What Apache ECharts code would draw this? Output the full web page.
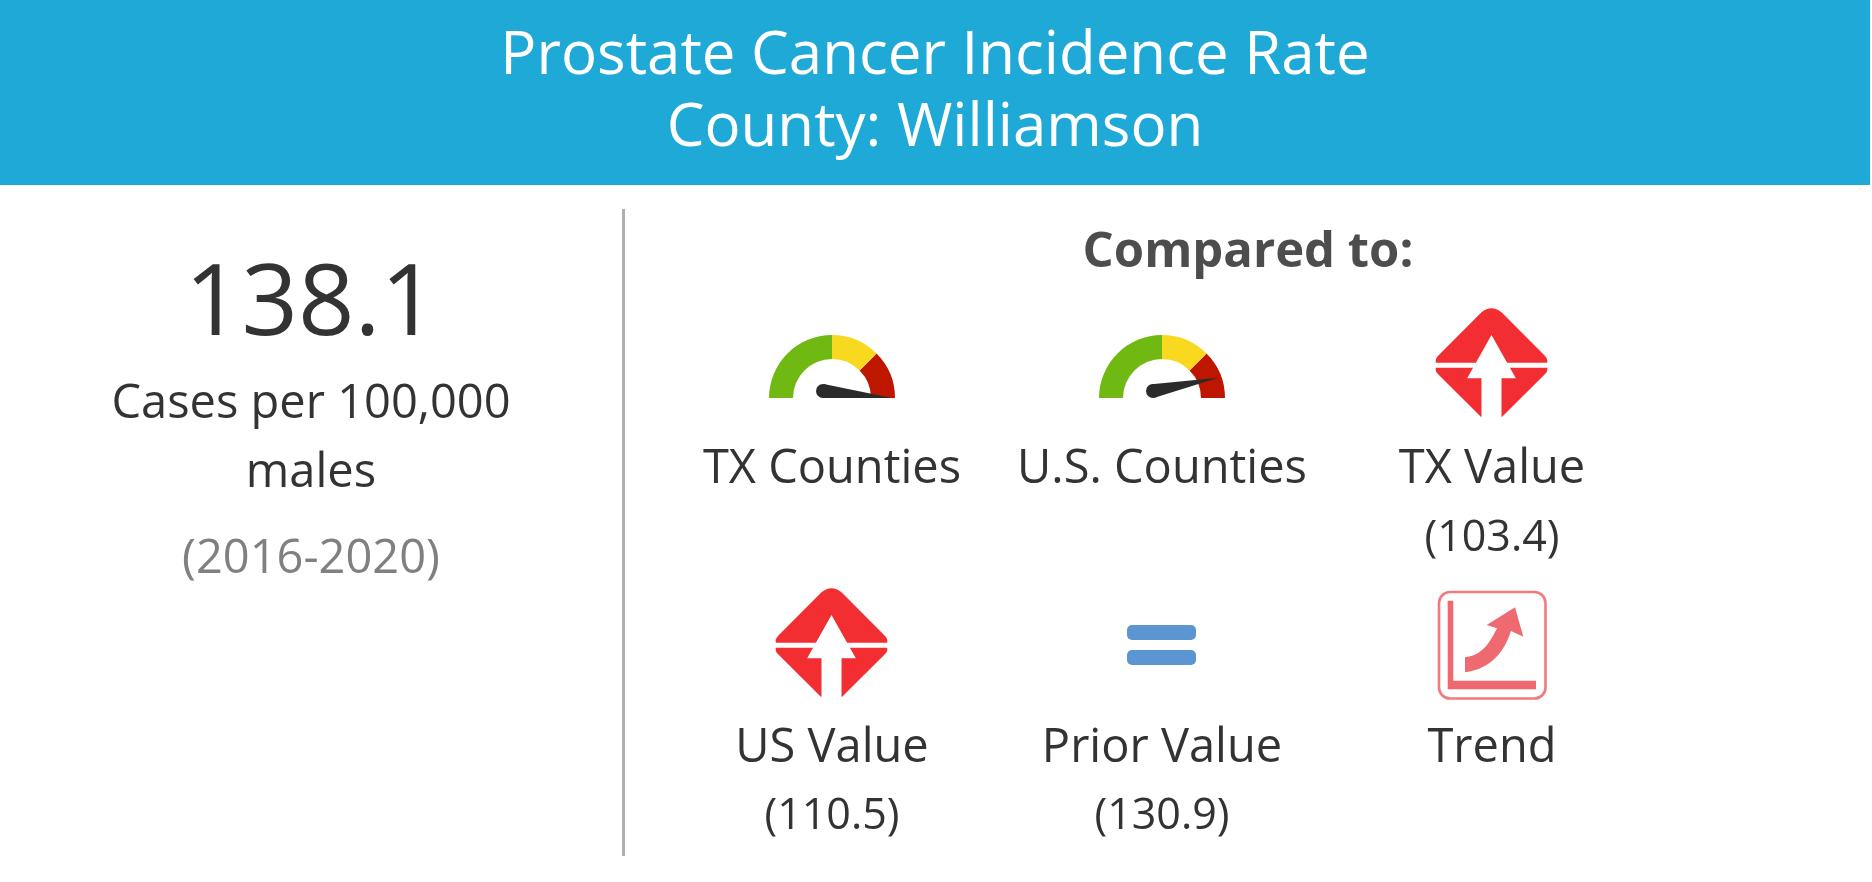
<!DOCTYPE html>
<html>
<head>
<meta charset="utf-8">
<title>Prostate Cancer Incidence Rate</title>
<style>
  html, body { margin: 0; padding: 0; background: #fff; }
  #chart { width: 1872px; height: 882px; }
</style>
<script src="https://cdn.jsdelivr.net/npm/echarts@6/dist/echarts.min.js"></script>
</head>
<body>
<div id="chart"></div>
<script>
// values
var titleLines = ['Prostate Cancer Incidence Rate', 'County: Williamson']
var rateValue = '138.1'
var rateUnit = ['Cases per 100,000', 'males']
var ratePeriod = '(2016-2020)'
var compareTitle = 'Compared to:'
var gaugeLabels = ['TX Counties', 'U.S. Counties']
var gaugeValues = [100, 89] // needle position along the arc, 0-100
var gaugeStops = [[0.5, '#6fb912'], [0.75, '#f9d91f'], [1, '#bf1600']]
var gaugeCenters = [[832, 398], [1162, 398]]
var iconLabels = ['TX Value', 'US Value', 'Prior Value', 'Trend']
var iconValues = ['(103.4)', '(110.5)', '(130.9)', '']

var FONT = '"Open Sans", sans-serif'
var RED = '#f22e32'
var PINK = '#ef6a70'

// icon outlines, registered so the graphic component can use them
echarts.graphic.registerShape('diamondBody', echarts.graphic.extendPath(
  'M-167-7Q-170-18-160-28L-30-158Q0-182 30-158L160-28Q170-18 167-7Z' +
  'M-167 8L167 8Q170 18 160 28L32 155L-32 155L-160 28Q-170 18-167 8Z'
))
echarts.graphic.registerShape('diamondArrow', echarts.graphic.extendPath(
  'M0-90L73 40L30 40L30 157L-30 157L-30 40L-73 40Z'
))
echarts.graphic.registerShape('trendAxes', echarts.graphic.extendPath(
  'M1447.7 600.7L1453.3 600.7L1453.3 680.7L1536 680.7L1536 689.3L1447.7 689.3Z'
))
echarts.graphic.registerShape('trendArrow', echarts.graphic.extendPath(
  'M1465 657.3C1483 656 1491 640 1497 628.3L1486.7 625L1515 607.3L1523.3 636.7L1511 631' +
  'C1505 650 1492 669 1465 672.3Z'
))

function text(str, x, y, size, color, weight) {
  return {
    type: 'text', x: x, y: y, silent: true,
    style: {
      text: str, fill: color || '#333', fontFamily: FONT, fontSize: size,
      fontWeight: weight || 'normal', align: 'center', verticalAlign: 'middle'
    }
  }
}

function diamond(cx, cy) {
  return [
    { type: 'diamondBody', x: cx, y: cy, scaleX: 1 / 3, scaleY: 1 / 3, style: { fill: RED } },
    { type: 'diamondArrow', x: cx, y: cy, scaleX: 1 / 3, scaleY: 1 / 3, style: { fill: '#fff' } }
  ]
}

function trendIcon() {
  return [
    {
      type: 'rect', shape: { x: 1439, y: 592, width: 106.5, height: 106.5, r: 11 },
      style: { fill: 'none', stroke: '#f07a80', lineWidth: 2.6 }
    },
    { type: 'trendAxes', style: { fill: PINK } },
    { type: 'trendArrow', style: { fill: PINK } }
  ]
}

var graphics = [
  { type: 'rect', shape: { x: 0, y: 0, width: 1870, height: 185 }, style: { fill: '#1fa9d6' } },
  { type: 'rect', shape: { x: 622, y: 209, width: 3, height: 647 }, style: { fill: '#b0b0b0' } },
  text(titleLines[0], 935, 57, 60, '#fff'),
  text(titleLines[1], 935, 129, 60, '#fff'),
  text(rateValue, 311, 307, 99, '#333'),
  text(rateUnit[0], 311, 405, 47, '#333'),
  text(rateUnit[1], 311, 474, 47, '#333'),
  text(ratePeriod, 311, 560, 47, '#808080'),
  text(compareTitle, 1248, 253, 49, '#4d4d4d', 'bold'),
  text(gaugeLabels[0], 832, 470, 47),
  text(gaugeLabels[1], 1162, 470, 47),
  text(iconLabels[0], 1492, 470, 47),
  text(iconValues[0], 1492, 539, 43),
  text(iconLabels[1], 832, 749, 47),
  text(iconValues[1], 832, 817, 43),
  text(iconLabels[2], 1162, 749, 47),
  text(iconValues[2], 1162, 817, 43),
  text(iconLabels[3], 1492, 749, 47),
  { type: 'rect', shape: { x: 1127, y: 625, width: 69, height: 15, r: 5 }, style: { fill: '#5b96d3' } },
  { type: 'rect', shape: { x: 1127, y: 650, width: 69, height: 15, r: 5 }, style: { fill: '#5b96d3' } }
].concat(diamond(1491.5, 365), diamond(831.5, 645), trendIcon())

function gaugeArc(center) {
  return {
    type: 'gauge', center: center, radius: 63, startAngle: 180, endAngle: 0, min: 0, max: 100,
    axisLine: { lineStyle: { width: 24, color: gaugeStops } },
    axisTick: { show: false }, splitLine: { show: false }, axisLabel: { show: false },
    pointer: { show: false }, anchor: { show: false }, title: { show: false }, detail: { show: false },
    silent: true, animation: false, data: []
  }
}

// needle: round hub left of the arc centre, tip lands on the arc at the value
function renderNeedle(params, api) {
  var c = gaugeCenters[api.value(0)]
  var angle = Math.PI * (1 - api.value(1) / 100)
  var hx = c[0] - 9, hy = c[1] - 7, r = 7
  var tx = c[0] + 60 * Math.cos(angle), ty = c[1] - 60 * Math.sin(angle)
  var a = Math.atan2(ty - hy, tx - hx)
  var nx = Math.sin(a) * r, ny = -Math.cos(a) * r
  return {
    type: 'group',
    children: [
      { type: 'circle', shape: { cx: hx, cy: hy, r: r }, style: { fill: '#2b2b2b' } },
      {
        type: 'polygon',
        shape: { points: [[hx + nx, hy + ny], [tx, ty], [hx - nx, hy - ny]] },
        style: { fill: '#2b2b2b' }
      }
    ]
  }
}

var chart = echarts.init(document.getElementById('chart'))
chart.setOption({
  animation: false,
  backgroundColor: '#fff',
  graphic: graphics,
  series: gaugeCenters.map(gaugeArc).concat([{
    type: 'custom', coordinateSystem: 'none', silent: true, z: 5,
    renderItem: renderNeedle,
    data: gaugeValues.map(function (v, i) { return [i, v] })
  }])
})
</script>
</body>
</html>
